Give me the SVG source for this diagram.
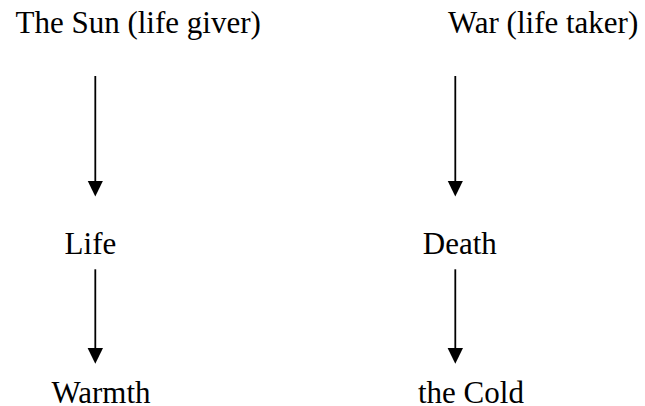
<svg xmlns="http://www.w3.org/2000/svg" width="645" height="406" viewBox="0 0 645 406">
  <style>
    .lbl { font-family: "Liberation Serif", "Times New Roman", serif; font-size: 31px; fill: #000; }
    .conn { stroke: #000; stroke-width: 1.8; fill: none; marker-end: url(#ah); }
  </style>
  <defs>
    <marker id="ah" viewBox="0 0 16 16" refX="7.3" refY="8" markerWidth="16" markerHeight="16" markerUnits="userSpaceOnUse" orient="auto">
      <path d="M0,0.3 L15.7,8 L0,15.7 Z" fill="#000"/>
    </marker>
  </defs>
  <rect width="645" height="406" fill="#fff"/>
  <g id="sun"><text class="lbl" x="15.5" y="33.3">The Sun (life giver)</text></g>
  <g id="war"><text class="lbl" x="448" y="33.3">War (life taker)</text></g>
  <g id="life"><text class="lbl" x="64.6" y="254.3">Life</text></g>
  <g id="death"><text class="lbl" x="422.8" y="254.3">Death</text></g>
  <g id="warmth"><text class="lbl" x="51.5" y="403.3">Warmth</text></g>
  <g id="cold"><text class="lbl" x="418" y="403.3">the Cold</text></g>
  <g id="connectors">
    <line class="conn" x1="95.3" y1="76" x2="95.3" y2="188"/>
    <line class="conn" x1="455.3" y1="76" x2="455.3" y2="188"/>
    <line class="conn" x1="95.3" y1="269.3" x2="95.3" y2="355.3"/>
    <line class="conn" x1="455.3" y1="269.3" x2="455.3" y2="355.3"/>
  </g>
</svg>
